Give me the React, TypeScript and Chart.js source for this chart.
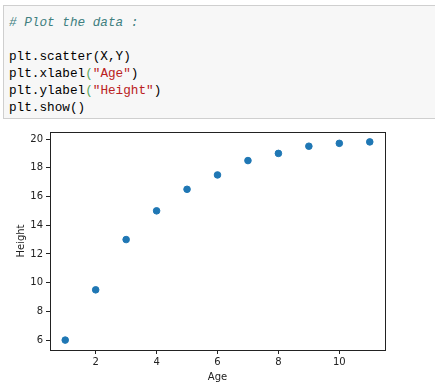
import React, { useEffect, useRef } from "react";
import { Chart, registerables } from "chart.js";

Chart.register(...registerables);

const ages = [1, 2, 3, 4, 5, 6, 7, 8, 9, 10, 11];
const heights = [6, 9.5, 13, 15, 16.5, 17.5, 18.5, 19, 19.5, 19.7, 19.8];
const xTicks = [2, 4, 6, 8, 10];
const yTicks = [6, 8, 10, 12, 14, 16, 18, 20];
const xLabel = "Age";
const yLabel = "Height";

const frame = {
  id: "frame",
  afterDatasetsDraw(chart: any) {
    const { ctx, chartArea } = chart;
    ctx.save();
    ctx.strokeStyle = "#222";
    ctx.lineWidth = 1;
    ctx.strokeRect(
      Math.round(chartArea.left) + 0.5,
      Math.round(chartArea.top) + 0.5,
      Math.round(chartArea.right - chartArea.left),
      Math.round(chartArea.bottom - chartArea.top)
    );
    ctx.restore();
  },
};

const mono = "'Liberation Mono', 'DejaVu Sans Mono', monospace";

export default function App() {
  const ref = useRef<HTMLCanvasElement>(null);

  useEffect(() => {
    document.body.style.margin = "0";
    const chart = new Chart(ref.current!, {
      type: "scatter",
      data: {
        datasets: [
          {
            data: ages.map((a, i) => ({ x: a, y: heights[i] })),
            backgroundColor: "#1f77b4",
            borderColor: "#1f77b4",
            pointRadius: 3.3,
            pointHoverRadius: 3.3,
          },
        ],
      },
      options: {
        animation: false,
        responsive: false,
        layout: { padding: { left: 0, right: 50, top: 12, bottom: 0 } },
        plugins: { legend: { display: false }, tooltip: { enabled: false } },
        scales: {
          x: {
            type: "linear",
            min: 0.5,
            max: 11.5,
            afterBuildTicks: (s: any) => {
              s.ticks = xTicks.map((v) => ({ value: v }));
            },
            afterFit: (s: any) => {
              s.height = 41;
            },
            grid: {
              drawOnChartArea: false,
              drawTicks: true,
              tickLength: 4,
              color: "#222",
            },
            border: { display: true, color: "#222" },
            ticks: {
              color: "#222",
              padding: 2,
              maxRotation: 0,
              font: { family: "'DejaVu Sans'", size: 10 },
            },
            title: {
              display: true,
              text: xLabel,
              color: "#222",
              padding: { top: 0, bottom: 8 },
              font: { family: "'DejaVu Sans'", size: 10 },
            },
          },
          y: {
            type: "linear",
            min: 5.31,
            max: 20.49,
            afterBuildTicks: (s: any) => {
              s.ticks = yTicks.map((v) => ({ value: v }));
            },
            afterFit: (s: any) => {
              s.width = 50;
            },
            grid: {
              drawOnChartArea: false,
              drawTicks: true,
              tickLength: 4,
              color: "#222",
            },
            border: { display: true, color: "#222" },
            ticks: {
              color: "#222",
              padding: 3,
              font: { family: "'DejaVu Sans'", size: 10 },
            },
            title: {
              display: true,
              text: yLabel,
              color: "#222",
              padding: { top: 15, bottom: 0 },
              font: { family: "'DejaVu Sans'", size: 10 },
            },
          },
        },
      },
      plugins: [frame],
    });
    return () => chart.destroy();
  }, []);

  const line: React.CSSProperties = {
    height: 17,
    lineHeight: "17px",
    whiteSpace: "pre",
  };

  return (
    <div
      style={{
        position: "absolute",
        left: 0,
        top: 0,
        width: 435,
        height: 391,
        background: "#fff",
        overflow: "hidden",
      }}
    >
      <div
        style={{
          position: "absolute",
          left: 3,
          top: 5,
          width: 460,
          height: 114,
          background: "#f7f7f7",
          border: "1px solid #cfcfcf",
          fontFamily: mono,
          fontSize: 12.7,
          color: "#000",
          boxSizing: "border-box",
          paddingLeft: 5,
          paddingTop: 8,
        }}
      >
        <div style={{ ...line, color: "#408080", fontStyle: "italic" }}># Plot the data :</div>
        <div style={line}> </div>
        <div style={line}>plt.scatter(X,Y)</div>
        <div style={line}>
          plt.xlabel<span style={{ color: "#5da85d" }}>(</span>
          <span style={{ color: "#ba2121" }}>"Age"</span>)
        </div>
        <div style={line}>
          plt.ylabel<span style={{ color: "#5da85d" }}>(</span>
          <span style={{ color: "#ba2121" }}>"Height"</span>)
        </div>
        <div style={line}>plt.show()</div>
      </div>
      <canvas
        ref={ref}
        width={435}
        height={271}
        style={{ position: "absolute", left: 0, top: 120, width: 435, height: 271 }}
      />
    </div>
  );
}
